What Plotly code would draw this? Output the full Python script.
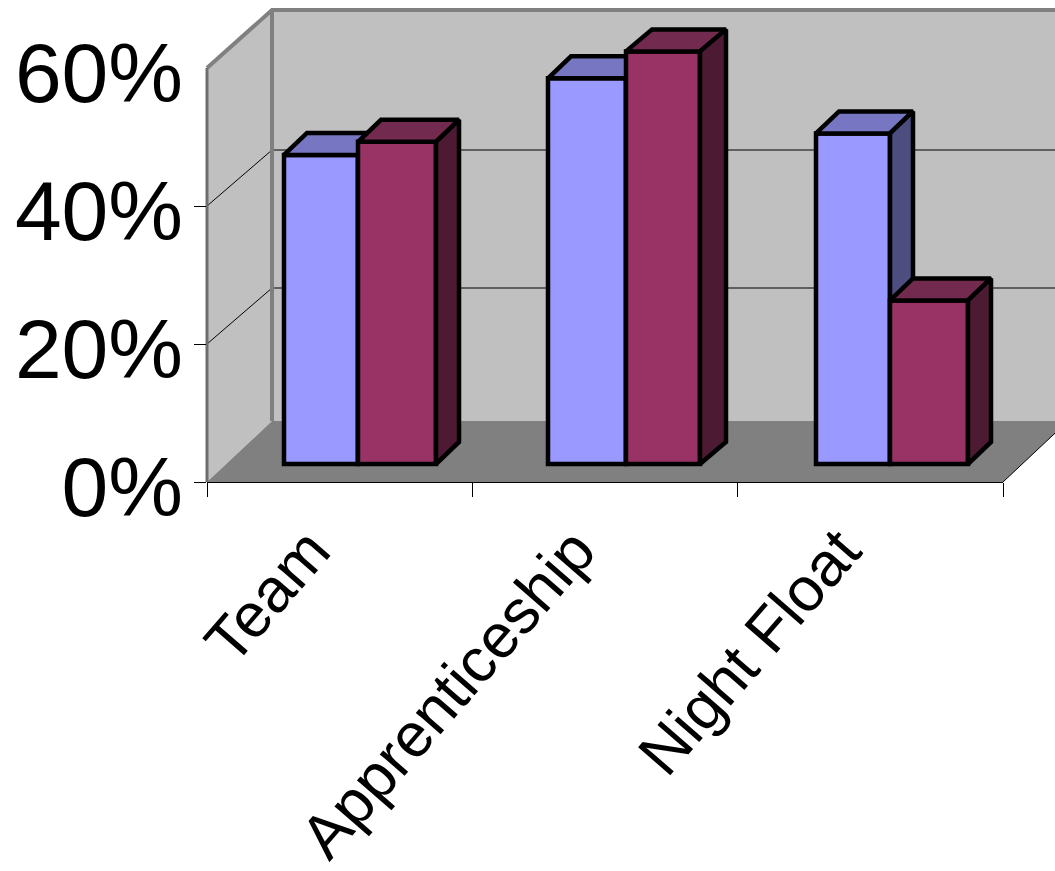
import plotly.graph_objects as go

categories = ["Team", "Apprenticeship", "Night Float"]
series_a = [44.8, 55.9, 47.9]
series_b = [46.7, 59.8, 23.7]
y_ticks = [0, 20, 40, 60]

BLUE, BLUE_TOP, BLUE_SIDE = "#9999FF", "#7676C2", "#4D4D80"
RED, RED_TOP, RED_SIDE = "#993366", "#722A4E", "#4C1A33"
WALL, FLOOR, EDGE = "#C0C0C0", "#808080", "#808080"
FONT = "Liberation Sans"

W, H = 1055, 871
X0, X1, Y0, Y60 = 207, 1003, 482, 68
PX_X = (X1 - X0) / 3
PX_Y = (Y0 - Y60) / 60
DEPTH_X, DEPTH_Y = 65 / PX_X, 61 / PX_Y          # full floor depth
TOP_DEPTH_Y, GRID_DEPTH_Y = 58 / PX_Y, 56 / PX_Y  # wall top and gridlines
BAR_Y = 22 / PX_Y
INSET_Y = 18 / PX_Y

# Bar column edges in pixels: left, shared edge, right, and depth of the right-hand bar
EDGES_PX = [(284, 358, 436), (548, 626, 700), (816, 890, 968)]
DEPTH_A_PX = [23, 23, 23]
DEPTH_B_PX = [23, 26, 23]


def to_x(px):
    return -0.5 + (px - X0) / PX_X


full_x = [to_x(0), to_x(W)]
full_y = [-(H - Y0) / PX_Y, Y0 / PX_Y]

fig = go.Figure()


def poly(xs, ys, fill, line=None, lw=0, axes=("x", "y")):
    fig.add_trace(go.Scatter(
        x=xs, y=ys, mode="lines", fill="toself" if fill else None, fillcolor=fill,
        line=dict(color=line or "rgba(0,0,0,0)", width=lw),
        xaxis=axes[0], yaxis=axes[1], hoverinfo="skip", showlegend=False))


# Walls and floor
L, R = -0.5, 2.5
far = R + 0.5
BL = L + DEPTH_X
poly([L, BL, BL, L], [0, DEPTH_Y, 60 + TOP_DEPTH_Y, 60], WALL)
poly([BL, far, far, BL], [DEPTH_Y, DEPTH_Y, 60 + TOP_DEPTH_Y, 60 + TOP_DEPTH_Y], WALL)
poly([L, BL, R + DEPTH_X, R], [0, DEPTH_Y, DEPTH_Y, 0], FLOOR)
for v in y_ticks[1:-1]:
    poly([L, BL, far], [v, v + GRID_DEPTH_Y, v + GRID_DEPTH_Y], None, "#000000", 1)
poly([L, L], [0, 60], None, "#6E6E6E", 3)
poly([L, BL, far], [60, 60 + TOP_DEPTH_Y, 60 + TOP_DEPTH_Y], None, EDGE, 4)
poly([BL, BL], [DEPTH_Y, 60 + TOP_DEPTH_Y], None, EDGE, 4)
poly([R, R + DEPTH_X], [0, DEPTH_Y], None, "#000000", 1)


def series(values, lefts, rights, depths, front, top, side, axes, name):
    xl = [to_x(p) for p in lefts]
    xr = [to_x(p) for p in rights]
    fig.add_trace(go.Bar(
        x=xl, y=values, base=INSET_Y, width=[r - l for l, r in zip(xl, xr)], offset=0, name=name,
        marker=dict(color=front, line=dict(color="#000000", width=4.5)),
        xaxis=axes[0], yaxis=axes[1], showlegend=False))
    for l, r, d, v in zip(xl, xr, depths, values):
        t, b = v + INSET_Y, INSET_Y
        dx = d / PX_X
        poly([l, l + dx, r + dx, r, l], [t, t + BAR_Y, t + BAR_Y, t, t], top, "#000000", 4.5, axes)
        poly([r, r + dx, r + dx, r, r], [t, t + BAR_Y, b + BAR_Y, b, t], side, "#000000", 4.5, axes)


series(series_a, [e[0] for e in EDGES_PX], [e[1] for e in EDGES_PX], DEPTH_A_PX,
       BLUE, BLUE_TOP, BLUE_SIDE, ("x2", "y2"), "Series 1")
series(series_b, [e[1] for e in EDGES_PX], [e[2] for e in EDGES_PX], DEPTH_B_PX,
       RED, RED_TOP, RED_SIDE, ("x3", "y3"), "Series 2")

# Real category / percent axes
fig.add_trace(go.Scatter(x=categories, y=series_b, mode="markers", marker=dict(opacity=0),
                         xaxis="x4", yaxis="y4", hoverinfo="skip", showlegend=False))

hidden = dict(visible=False, fixedrange=True)
layout_axes = {}
for i in ("", "2", "3"):
    layout_axes["xaxis" + i] = dict(hidden, range=full_x, domain=[0, 1], anchor="y" + i)
    layout_axes["yaxis" + i] = dict(hidden, range=full_y, domain=[0, 1], anchor="x" + i)

fig.update_layout(
    **layout_axes,
    xaxis4=dict(
        type="category", categoryorder="array", categoryarray=categories,
        range=[-0.5, 2.5], domain=[X0 / W, X1 / W], anchor="y4", automargin=False,
        tickson="boundaries", ticks="outside", ticklen=14, tickcolor="#000000", tickwidth=1,
        showline=True, linecolor="#000000", linewidth=1, showgrid=False, zeroline=False,
        tickangle=-49, tickfont=dict(family=FONT, size=62, color="#000000"),
        ticklabelstandoff=6, ticklabelshift=-30,
    ),
    yaxis4=dict(
        range=[0, 60], domain=[1 - Y0 / H, 1 - Y60 / H], anchor="x4", automargin=False,
        tickvals=y_ticks, ticktext=[f"{v}%" for v in y_ticks],
        ticks="", showline=False, showgrid=False, zeroline=False,
        minor=dict(tickmode="array", tickvals=y_ticks[:-1], ticks="outside", ticklen=12,
                   tickcolor="#000000", tickwidth=1, showgrid=False),
        tickfont=dict(family=FONT, size=84, color="#000000"),
        ticklabelstandoff=23, ticklabelshift=5,
    ),
    width=W, height=H, margin=dict(l=0, r=0, t=0, b=0, pad=0, autoexpand=False), autosize=False,
    paper_bgcolor="#FFFFFF", plot_bgcolor="rgba(0,0,0,0)", showlegend=False, barmode="overlay",
)
fig.write_html("out.html", config={"displayModeBar": False},
               post_script="document.body.style.margin='0';")
